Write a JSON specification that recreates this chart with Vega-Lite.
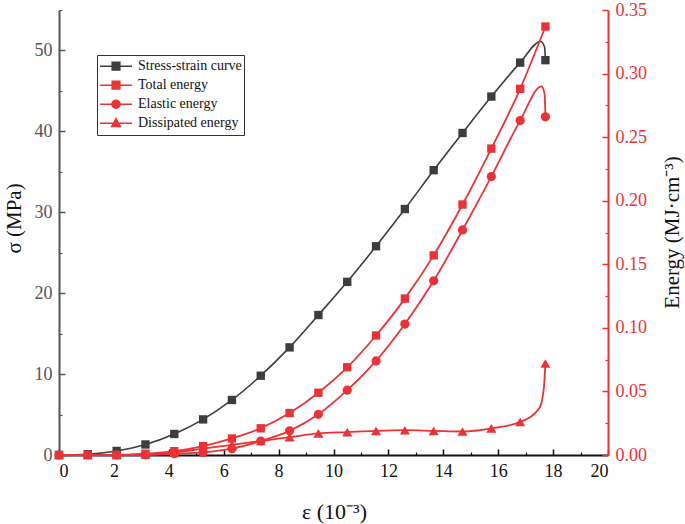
{
  "$schema": "https://vega.github.io/schema/vega-lite/v6.json",
  "width": 549,
  "height": 445,
  "autosize": "none",
  "padding": {"left": 59, "top": 10, "right": 77, "bottom": 69},
  "background": "white",
  "config": {
    "view": {"stroke": null},
    "axis": {"labelFont": "Liberation Serif", "titleFont": "Liberation Serif", "grid": false, "titleFontWeight": "normal"},
    "legend": {"labelFont": "Liberation Serif"}
  },
  "datasets": {
    "stress_markers": [
      {"x": 0, "sigma": 0}, {"x": 1.05, "sigma": 0.1}, {"x": 2.1, "sigma": 0.5}, {"x": 3.15, "sigma": 1.3},
      {"x": 4.2, "sigma": 2.6}, {"x": 5.25, "sigma": 4.4}, {"x": 6.3, "sigma": 6.8}, {"x": 7.35, "sigma": 9.8},
      {"x": 8.4, "sigma": 13.3}, {"x": 9.45, "sigma": 17.3}, {"x": 10.5, "sigma": 21.4}, {"x": 11.55, "sigma": 25.8},
      {"x": 12.6, "sigma": 30.4}, {"x": 13.65, "sigma": 35.2}, {"x": 14.7, "sigma": 39.8}, {"x": 15.75, "sigma": 44.3},
      {"x": 16.8, "sigma": 48.5}, {"x": 17.72, "sigma": 48.8}
    ],
    "stress_curve": [
      {"x": 0, "sigma": 0}, {"x": 1.05, "sigma": 0.1}, {"x": 2.1, "sigma": 0.5}, {"x": 3.15, "sigma": 1.3},
      {"x": 4.2, "sigma": 2.6}, {"x": 5.25, "sigma": 4.4}, {"x": 6.3, "sigma": 6.8}, {"x": 7.35, "sigma": 9.8},
      {"x": 8.4, "sigma": 13.3}, {"x": 9.45, "sigma": 17.3}, {"x": 10.5, "sigma": 21.4}, {"x": 11.55, "sigma": 25.8},
      {"x": 12.6, "sigma": 30.4}, {"x": 13.65, "sigma": 35.2}, {"x": 14.7, "sigma": 39.8}, {"x": 15.75, "sigma": 44.3},
      {"x": 16.8, "sigma": 48.5}, {"x": 17.55, "sigma": 51.1}, {"x": 17.69, "sigma": 50.4}, {"x": 17.72, "sigma": 48.8}
    ],
    "energy_markers": [
      {"x": 0, "energy": 0, "series": "Total energy"}, {"x": 1.05, "energy": 0, "series": "Total energy"},
      {"x": 2.1, "energy": 0, "series": "Total energy"}, {"x": 3.15, "energy": 0.001, "series": "Total energy"},
      {"x": 4.2, "energy": 0.003, "series": "Total energy"}, {"x": 5.25, "energy": 0.007, "series": "Total energy"},
      {"x": 6.3, "energy": 0.013, "series": "Total energy"}, {"x": 7.35, "energy": 0.021, "series": "Total energy"},
      {"x": 8.4, "energy": 0.033, "series": "Total energy"}, {"x": 9.45, "energy": 0.049, "series": "Total energy"},
      {"x": 10.5, "energy": 0.069, "series": "Total energy"}, {"x": 11.55, "energy": 0.094, "series": "Total energy"},
      {"x": 12.6, "energy": 0.123, "series": "Total energy"}, {"x": 13.65, "energy": 0.157, "series": "Total energy"},
      {"x": 14.7, "energy": 0.197, "series": "Total energy"}, {"x": 15.75, "energy": 0.241, "series": "Total energy"},
      {"x": 16.8, "energy": 0.288, "series": "Total energy"}, {"x": 17.72, "energy": 0.337, "series": "Total energy"},
      {"x": 0, "energy": 0, "series": "Elastic energy"}, {"x": 1.05, "energy": 0, "series": "Elastic energy"},
      {"x": 2.1, "energy": 0, "series": "Elastic energy"}, {"x": 3.15, "energy": 0, "series": "Elastic energy"},
      {"x": 4.2, "energy": 0.001, "series": "Elastic energy"}, {"x": 5.25, "energy": 0.002, "series": "Elastic energy"},
      {"x": 6.3, "energy": 0.005, "series": "Elastic energy"}, {"x": 7.35, "energy": 0.011, "series": "Elastic energy"},
      {"x": 8.4, "energy": 0.019, "series": "Elastic energy"}, {"x": 9.45, "energy": 0.032, "series": "Elastic energy"},
      {"x": 10.5, "energy": 0.051, "series": "Elastic energy"}, {"x": 11.55, "energy": 0.074, "series": "Elastic energy"},
      {"x": 12.6, "energy": 0.103, "series": "Elastic energy"}, {"x": 13.65, "energy": 0.137, "series": "Elastic energy"},
      {"x": 14.7, "energy": 0.177, "series": "Elastic energy"}, {"x": 15.75, "energy": 0.219, "series": "Elastic energy"},
      {"x": 16.8, "energy": 0.263, "series": "Elastic energy"}, {"x": 17.72, "energy": 0.266, "series": "Elastic energy"},
      {"x": 0, "energy": 0, "series": "Dissipated energy"}, {"x": 1.05, "energy": 0, "series": "Dissipated energy"},
      {"x": 2.1, "energy": 0, "series": "Dissipated energy"}, {"x": 3.15, "energy": 0.0005, "series": "Dissipated energy"},
      {"x": 4.2, "energy": 0.002, "series": "Dissipated energy"}, {"x": 5.25, "energy": 0.005, "series": "Dissipated energy"},
      {"x": 6.3, "energy": 0.008, "series": "Dissipated energy"}, {"x": 7.35, "energy": 0.011, "series": "Dissipated energy"},
      {"x": 8.4, "energy": 0.014, "series": "Dissipated energy"}, {"x": 9.45, "energy": 0.017, "series": "Dissipated energy"},
      {"x": 10.5, "energy": 0.018, "series": "Dissipated energy"}, {"x": 11.55, "energy": 0.019, "series": "Dissipated energy"},
      {"x": 12.6, "energy": 0.0195, "series": "Dissipated energy"}, {"x": 13.65, "energy": 0.019, "series": "Dissipated energy"},
      {"x": 14.7, "energy": 0.0185, "series": "Dissipated energy"}, {"x": 15.75, "energy": 0.021, "series": "Dissipated energy"},
      {"x": 16.8, "energy": 0.026, "series": "Dissipated energy"}, {"x": 17.72, "energy": 0.072, "series": "Dissipated energy"}
    ],
    "energy_curve": [
      {"x": 0, "energy": 0, "series": "Total energy"}, {"x": 1.05, "energy": 0, "series": "Total energy"},
      {"x": 2.1, "energy": 0, "series": "Total energy"}, {"x": 3.15, "energy": 0.001, "series": "Total energy"},
      {"x": 4.2, "energy": 0.003, "series": "Total energy"}, {"x": 5.25, "energy": 0.007, "series": "Total energy"},
      {"x": 6.3, "energy": 0.013, "series": "Total energy"}, {"x": 7.35, "energy": 0.021, "series": "Total energy"},
      {"x": 8.4, "energy": 0.033, "series": "Total energy"}, {"x": 9.45, "energy": 0.049, "series": "Total energy"},
      {"x": 10.5, "energy": 0.069, "series": "Total energy"}, {"x": 11.55, "energy": 0.094, "series": "Total energy"},
      {"x": 12.6, "energy": 0.123, "series": "Total energy"}, {"x": 13.65, "energy": 0.157, "series": "Total energy"},
      {"x": 14.7, "energy": 0.197, "series": "Total energy"}, {"x": 15.75, "energy": 0.241, "series": "Total energy"},
      {"x": 16.8, "energy": 0.288, "series": "Total energy"}, {"x": 17.72, "energy": 0.337, "series": "Total energy"},
      {"x": 0, "energy": 0, "series": "Elastic energy"}, {"x": 1.05, "energy": 0, "series": "Elastic energy"},
      {"x": 2.1, "energy": 0, "series": "Elastic energy"}, {"x": 3.15, "energy": 0, "series": "Elastic energy"},
      {"x": 4.2, "energy": 0.001, "series": "Elastic energy"}, {"x": 5.25, "energy": 0.002, "series": "Elastic energy"},
      {"x": 6.3, "energy": 0.005, "series": "Elastic energy"}, {"x": 7.35, "energy": 0.011, "series": "Elastic energy"},
      {"x": 8.4, "energy": 0.019, "series": "Elastic energy"}, {"x": 9.45, "energy": 0.032, "series": "Elastic energy"},
      {"x": 10.5, "energy": 0.051, "series": "Elastic energy"}, {"x": 11.55, "energy": 0.074, "series": "Elastic energy"},
      {"x": 12.6, "energy": 0.103, "series": "Elastic energy"}, {"x": 13.65, "energy": 0.137, "series": "Elastic energy"},
      {"x": 14.7, "energy": 0.177, "series": "Elastic energy"}, {"x": 15.75, "energy": 0.219, "series": "Elastic energy"},
      {"x": 16.8, "energy": 0.263, "series": "Elastic energy"}, {"x": 17.58, "energy": 0.290, "series": "Elastic energy"},
      {"x": 17.69, "energy": 0.284, "series": "Elastic energy"}, {"x": 17.72, "energy": 0.266, "series": "Elastic energy"},
      {"x": 0, "energy": 0, "series": "Dissipated energy"}, {"x": 1.05, "energy": 0, "series": "Dissipated energy"},
      {"x": 2.1, "energy": 0, "series": "Dissipated energy"}, {"x": 3.15, "energy": 0.0005, "series": "Dissipated energy"},
      {"x": 4.2, "energy": 0.002, "series": "Dissipated energy"}, {"x": 5.25, "energy": 0.005, "series": "Dissipated energy"},
      {"x": 6.3, "energy": 0.008, "series": "Dissipated energy"}, {"x": 7.35, "energy": 0.011, "series": "Dissipated energy"},
      {"x": 8.4, "energy": 0.014, "series": "Dissipated energy"}, {"x": 9.45, "energy": 0.017, "series": "Dissipated energy"},
      {"x": 10.5, "energy": 0.018, "series": "Dissipated energy"}, {"x": 11.55, "energy": 0.019, "series": "Dissipated energy"},
      {"x": 12.6, "energy": 0.0195, "series": "Dissipated energy"}, {"x": 13.65, "energy": 0.019, "series": "Dissipated energy"},
      {"x": 14.7, "energy": 0.0185, "series": "Dissipated energy"}, {"x": 15.75, "energy": 0.021, "series": "Dissipated energy"},
      {"x": 16.8, "energy": 0.026, "series": "Dissipated energy"}, {"x": 17.5, "energy": 0.037, "series": "Dissipated energy"},
      {"x": 17.66, "energy": 0.052, "series": "Dissipated energy"}, {"x": 17.72, "energy": 0.072, "series": "Dissipated energy"}
    ]
  },
  "layer": [
    {
      "layer": [
        {
          "data": {"name": "stress_curve"},
          "mark": {"type": "line", "interpolate": "monotone", "color": "#3d3d3d", "strokeWidth": 1.6},
          "encoding": {
            "x": {"field": "x", "type": "quantitative", "scale": {"domain": [0, 20], "nice": false},
              "axis": {"orient": "bottom", "values": [0, 2, 4, 6, 8, 10, 12, 14, 16, 18, 20], "format": "d", "tickSize": -6, "tickWidth": 1.5, "tickColor": "#111", "domainColor": "#111", "domainWidth": 2, "labelColor": "#111", "labelFontSize": 18, "labelPadding": 13, "title": "ε (10⁻³)", "titleFontSize": 22, "titleColor": "#111", "titleX": 275, "titleY": 56, "titleBaseline": "middle", "titleAlign": "center"}},
            "y": {"field": "sigma", "type": "quantitative", "scale": {"domain": [0, 55], "nice": false},
              "axis": {"orient": "left", "values": [0, 10, 20, 30, 40, 50], "format": "d", "tickSize": -6, "tickWidth": 1.5, "tickColor": "#555", "domainColor": "#555", "domainWidth": 2, "labelColor": "#555", "labelFontSize": 18, "labelPadding": 13, "title": "σ (MPa)", "titleFontSize": 21, "titleColor": "#111", "titleX": -45, "titleY": 208, "titleAngle": 270, "titleBaseline": "middle", "titleAlign": "center"}}
          }
        },
        {
          "data": {"name": "stress_markers"},
          "mark": {"type": "point", "filled": true, "shape": "square", "size": 70, "color": "#3d3d3d", "opacity": 1},
          "encoding": {
            "x": {"field": "x", "type": "quantitative", "scale": {"domain": [0, 20], "nice": false},
              "axis": {"orient": "bottom", "values": [0, 2, 4, 6, 8, 10, 12, 14, 16, 18, 20], "format": "d", "tickSize": -6, "tickWidth": 1.5, "tickColor": "#111", "domainColor": "#111", "domainWidth": 2, "labelColor": "#111", "labelFontSize": 18, "labelPadding": 13, "title": "ε (10⁻³)", "titleFontSize": 22, "titleColor": "#111", "titleX": 275, "titleY": 56, "titleBaseline": "middle", "titleAlign": "center"}},
            "y": {"field": "sigma", "type": "quantitative",
              "axis": {"orient": "left", "values": [5, 15, 25, 35, 45, 55], "tickSize": -3, "tickWidth": 1.2, "tickColor": "#555", "labels": false, "domain": false, "title": null}}
          }
        }
      ],
      "resolve": {"axis": {"y": "independent"}}
    },
    {
      "layer": [
        {
          "data": {"name": "energy_curve"},
          "mark": {"type": "line", "interpolate": "monotone", "color": "#ec3237", "strokeWidth": 1.8},
          "encoding": {
            "x": {"field": "x", "type": "quantitative", "scale": {"domain": [0, 20], "nice": false},
              "axis": {"orient": "bottom", "values": [1, 3, 5, 7, 9, 11, 13, 15, 17, 19], "tickSize": -3, "tickWidth": 1.2, "tickColor": "#111", "labels": false, "domain": false, "title": null}},
            "y": {"field": "energy", "type": "quantitative", "scale": {"domain": [0, 0.35], "nice": false},
              "axis": {"orient": "right", "values": [0, 0.05, 0.1, 0.15, 0.2, 0.25, 0.3, 0.35], "format": ".2f", "tickSize": -6, "tickWidth": 1.5, "tickColor": "#ec3237", "domainColor": "#ec3237", "domainWidth": 2, "labelColor": "#ec3237", "labelFontSize": 18, "labelPadding": 13, "title": "Energy (MJ·cm⁻³)", "titleFontSize": 21, "titleColor": "#111", "titleX": 64, "titleY": 222, "titleAngle": 270, "titleBaseline": "middle", "titleAlign": "center"}},
            "detail": {"field": "series", "type": "nominal"}
          }
        },
        {
          "data": {"name": "energy_markers"},
          "transform": [{"filter": "datum.series == 'Total energy'"}],
          "mark": {"type": "point", "filled": true, "shape": "square", "size": 70, "color": "#ec3237", "opacity": 1},
          "encoding": {
            "x": {"field": "x", "type": "quantitative", "scale": {"domain": [0, 20], "nice": false},
              "axis": {"orient": "bottom", "values": [1, 3, 5, 7, 9, 11, 13, 15, 17, 19], "tickSize": -3, "tickWidth": 1.2, "tickColor": "#111", "labels": false, "domain": false, "title": null}},
            "y": {"field": "energy", "type": "quantitative",
              "axis": {"orient": "right", "values": [0.025, 0.075, 0.125, 0.175, 0.225, 0.275, 0.325], "tickSize": -3, "tickWidth": 1.2, "tickColor": "#ec3237", "labels": false, "domain": false, "title": null}}
          }
        },
        {
          "data": {"name": "energy_markers"},
          "transform": [{"filter": "datum.series == 'Elastic energy'"}],
          "mark": {"type": "point", "filled": true, "shape": "circle", "size": 85, "color": "#ec3237", "opacity": 1},
          "encoding": {
            "x": {"field": "x", "type": "quantitative", "scale": {"domain": [0, 20], "nice": false},
              "axis": {"orient": "bottom", "values": [1, 3, 5, 7, 9, 11, 13, 15, 17, 19], "tickSize": -3, "tickWidth": 1.2, "tickColor": "#111", "labels": false, "domain": false, "title": null}},
            "y": {"field": "energy", "type": "quantitative", "axis": null}
          }
        },
        {
          "data": {"name": "energy_markers"},
          "transform": [{"filter": "datum.series == 'Dissipated energy'"}],
          "mark": {"type": "point", "filled": true, "shape": "triangle-up", "size": 100, "color": "#ec3237", "opacity": 1},
          "encoding": {
            "x": {"field": "x", "type": "quantitative", "scale": {"domain": [0, 20], "nice": false},
              "axis": {"orient": "bottom", "values": [1, 3, 5, 7, 9, 11, 13, 15, 17, 19], "tickSize": -3, "tickWidth": 1.2, "tickColor": "#111", "labels": false, "domain": false, "title": null}},
            "y": {"field": "energy", "type": "quantitative", "axis": null}
          }
        }
      ],
      "resolve": {"axis": {"y": "independent"}}
    },
    {
      "data": {"name": "energy_markers"},
      "transform": [{"filter": "false"}],
      "mark": {"type": "point", "filled": true, "strokeWidth": 1.5, "opacity": 1},
      "encoding": {
        "shape": {"field": "series", "type": "nominal",
          "scale": {"domain": ["Stress-strain curve", "Total energy", "Elastic energy", "Dissipated energy"],
            "range": ["M-1,0H1M-0.24,-0.24H0.24V0.24H-0.24Z", "M-1,0H1M-0.24,-0.24H0.24V0.24H-0.24Z", "M-1,0H1M0.25,0A0.25,0.25,0,1,1,-0.25,0A0.25,0.25,0,1,1,0.25,0Z", "M-1,0H1M0,-0.28L0.27,0.2H-0.27Z"]},
          "legend": {"orient": "none", "legendX": 38, "legendY": 45, "title": null, "symbolSize": 1024, "symbolStrokeWidth": 1.5, "labelFontSize": 14, "labelColor": "#111", "labelOffset": 5, "strokeColor": "#333", "padding": 2, "clipHeight": 18.4, "rowPadding": 0}},
        "fill": {"field": "series", "type": "nominal",
          "scale": {"domain": ["Stress-strain curve", "Total energy", "Elastic energy", "Dissipated energy"], "range": ["#3d3d3d", "#ec3237", "#ec3237", "#ec3237"]},
          "legend": {"orient": "none", "legendX": 38, "legendY": 45, "title": null, "symbolSize": 1024, "symbolStrokeWidth": 1.5, "labelFontSize": 14, "labelColor": "#111", "labelOffset": 5, "strokeColor": "#333", "padding": 2, "clipHeight": 18.4, "rowPadding": 0}},
        "stroke": {"field": "series", "type": "nominal",
          "scale": {"domain": ["Stress-strain curve", "Total energy", "Elastic energy", "Dissipated energy"], "range": ["#3d3d3d", "#ec3237", "#ec3237", "#ec3237"]},
          "legend": {"orient": "none", "legendX": 38, "legendY": 45, "title": null, "symbolSize": 1024, "symbolStrokeWidth": 1.5, "labelFontSize": 14, "labelColor": "#111", "labelOffset": 5, "strokeColor": "#333", "padding": 2, "clipHeight": 18.4, "rowPadding": 0}}
      }
    }
  ],
  "resolve": {"scale": {"y": "independent"}, "axis": {"x": "independent"}}
}
